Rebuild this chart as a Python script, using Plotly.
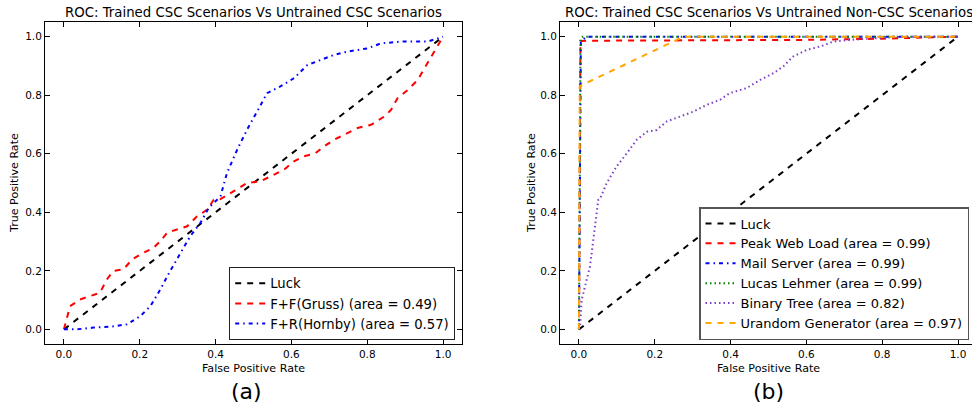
import plotly.graph_objects as go

W, H = 972, 408

# ---------- data: panel (a) ----------
luck_x = [0, 1]
luck_y = [0, 1]

gruss_x = [0, 0.016, 0.042, 0.069, 0.095, 0.113, 0.13, 0.157, 0.18, 0.209, 0.236, 0.254, 0.272, 0.298, 0.325,
           0.351, 0.378, 0.395, 0.413, 0.448, 0.483, 0.519, 0.545, 0.58, 0.607, 0.633, 0.664, 0.686, 0.713,
           0.748, 0.775, 0.81, 0.845, 0.863, 0.88, 0.907, 0.933, 0.951, 0.969, 0.986, 1.0]
gruss_y = [0, 0.079, 0.102, 0.114, 0.125, 0.17, 0.199, 0.205, 0.239, 0.261, 0.278, 0.301, 0.33, 0.341, 0.352,
           0.386, 0.409, 0.443, 0.445, 0.472, 0.5, 0.506, 0.523, 0.545, 0.574, 0.591, 0.602, 0.625, 0.648,
           0.671, 0.688, 0.699, 0.727, 0.75, 0.79, 0.818, 0.852, 0.892, 0.932, 0.966, 1.0]

hornby_x = [0, 0.034, 0.078, 0.122, 0.166, 0.201, 0.228, 0.254, 0.28, 0.307, 0.333, 0.36, 0.382, 0.404,
            0.413, 0.43, 0.457, 0.483, 0.505, 0.522, 0.536, 0.571, 0.607, 0.642, 0.677, 0.713, 0.748, 0.801,
            0.836, 0.889, 0.96, 1.0]
hornby_y = [0, 0.0, 0.006, 0.009, 0.017, 0.045, 0.079, 0.136, 0.199, 0.261, 0.318, 0.364, 0.415, 0.443,
            0.455, 0.534, 0.614, 0.682, 0.733, 0.773, 0.807, 0.83, 0.858, 0.903, 0.92, 0.938, 0.949, 0.96,
            0.977, 0.983, 0.983, 1.0]

# ---------- data: panel (b) ----------
web_x = [0, 0.004, 0.02, 0.3, 0.6, 0.8, 0.95, 1.0]
web_y = [0, 0.985, 0.986, 0.987, 0.989, 0.993, 1.0, 1.0]

mail_x = [0, 0.005, 0.01, 0.02, 1.0]
mail_y = [0, 0.98, 0.99, 1.0, 1.0]

lucas_x = [0, 0.004, 0.01, 1.0]
lucas_y = [0, 0.99, 1.0, 1.0]

tree_x = [0, 0.003, 0.007, 0.029, 0.051, 0.055, 0.073, 0.099, 0.126, 0.152, 0.179, 0.205, 0.231, 0.266, 0.302,
          0.337, 0.372, 0.398, 0.442, 0.478, 0.513, 0.539, 0.565, 0.601, 0.636, 0.671, 0.715, 0.776, 0.865, 1.0]
tree_y = [0, 0.009, 0.1, 0.214, 0.442, 0.444, 0.499, 0.556, 0.601, 0.647, 0.675, 0.681, 0.71, 0.727, 0.744,
          0.767, 0.784, 0.807, 0.824, 0.852, 0.875, 0.898, 0.932, 0.955, 0.966, 0.983, 0.989, 0.994, 1.0, 1.0]

urand_x = [0, 0.002, 0.258, 0.275, 1.0]
urand_y = [0, 0.831, 0.989, 1.0, 1.0]

legend_a = ["Luck", "F+F(Gruss) (area = 0.49)", "F+R(Hornby) (area = 0.57)"]
legend_b = ["Luck", "Peak Web Load (area = 0.99)", "Mail Server (area = 0.99)",
            "Lucas Lehmer (area = 0.99)", "Binary Tree (area = 0.82)", "Urandom Generator (area = 0.97)"]

title_a = "ROC: Trained CSC Scenarios Vs Untrained CSC Scenarios"
title_b = "ROC: Trained CSC Scenarios Vs Untrained Non-CSC Scenarios"
ticks = [0.0, 0.2, 0.4, 0.6, 0.8, 1.0]
tick_text = ["0.0", "0.2", "0.4", "0.6", "0.8", "1.0"]

FONT = "DejaVu Sans"
DASH = "6px,6px"
DASHDOT = "4px,4px,1.5px,4px"
DOT = "1.5px,3px"

fig = go.Figure()

def add(x, y, name, color, dash, xa, ya, leg):
    fig.add_trace(go.Scatter(x=x, y=y, mode="lines", name=name,
                             line=dict(color=color, width=2, dash=dash),
                             xaxis=xa, yaxis=ya, legend=leg))

add(luck_x, luck_y, legend_a[0], "black", DASH, "x", "y", "legend")
add(gruss_x, gruss_y, legend_a[1], "#ff0000", DASH, "x", "y", "legend")
add(hornby_x, hornby_y, legend_a[2], "#0000ff", DASHDOT, "x", "y", "legend")

add(luck_x, luck_y, legend_b[0], "black", DASH, "x2", "y2", "legend2")
add(web_x, web_y, legend_b[1], "#ff0000", DASH, "x2", "y2", "legend2")
add(mail_x, mail_y, legend_b[2], "#0000ff", DASHDOT, "x2", "y2", "legend2")
add(lucas_x, lucas_y, legend_b[3], "#008000", DOT, "x2", "y2", "legend2")
add(tree_x, tree_y, legend_b[4], "#7b3fc4", DOT, "x2", "y2", "legend2")
add(urand_x, urand_y, legend_b[5], "#ffa500", DASH, "x2", "y2", "legend2")

def px_x(p):
    return p / W

def px_y(p):
    return 1 - p / H

axis_common = dict(showgrid=False, zeroline=False, showline=True, linecolor="black", linewidth=1,
                   ticks="inside", ticklen=5, tickcolor="black", tickwidth=1,
                   tickvals=ticks, ticktext=tick_text,
                   tickfont=dict(family=FONT, size=10.5, color="black"))

ydom = [px_y(344), px_y(22)]
fig.update_layout(
    width=W, height=H, margin=dict(l=0, r=0, t=0, b=0),
    paper_bgcolor="white", plot_bgcolor="white",
    font=dict(family=FONT, color="black"),
    xaxis=dict(domain=[px_x(45), px_x(462)], range=[-0.05, 1.05], mirror="allticks", anchor="y", **axis_common),
    yaxis=dict(domain=ydom, range=[-0.05, 1.05], mirror="allticks", anchor="x", **axis_common),
    xaxis2=dict(domain=[px_x(560), 1.0], range=[-0.05, (972 - 579) / 379], mirror="allticks", anchor="y2", **axis_common),
    yaxis2=dict(domain=ydom, range=[-0.05, 1.05], mirror=False, anchor="x2", **axis_common),
    legend=dict(x=px_x(455), y=px_y(340), xanchor="right", yanchor="bottom",
                bgcolor="white", bordercolor="#222222", borderwidth=1.2,
                font=dict(family=FONT, size=13.2, color="black"), tracegroupgap=0),
    legend2=dict(x=px_x(969), y=px_y(340), xanchor="right", yanchor="bottom",
                 bgcolor="white", bordercolor="#555555", borderwidth=1.5,
                 font=dict(family=FONT, size=13, color="black"), tracegroupgap=0),
    showlegend=True,
)

ann = []
ann.append(dict(text=title_a, x=px_x(253.5), y=px_y(12), font=dict(size=13.3)))
ann.append(dict(text=title_b, x=px_x(768.5), y=px_y(12), font=dict(size=13.3)))
ann.append(dict(text="False Positive Rate", x=px_x(253.5), y=px_y(368), font=dict(size=11.1)))
ann.append(dict(text="False Positive Rate", x=px_x(768.5), y=px_y(368), font=dict(size=11.1)))
ann.append(dict(text="True Positive Rate", x=px_x(15), y=px_y(183), textangle=-90, font=dict(size=11.1)))
ann.append(dict(text="True Positive Rate", x=px_x(532), y=px_y(183), textangle=-90, font=dict(size=11.1)))
ann.append(dict(text="(a)", x=px_x(247), y=px_y(391), font=dict(size=22)))
ann.append(dict(text="(b)", x=px_x(768), y=px_y(391), font=dict(size=22)))
for a in ann:
    a.update(xref="paper", yref="paper", showarrow=False, xanchor="center", yanchor="middle")
    a["font"].update(family=FONT, color="black")
fig.update_layout(annotations=ann)

fig.write_html("out.html")
